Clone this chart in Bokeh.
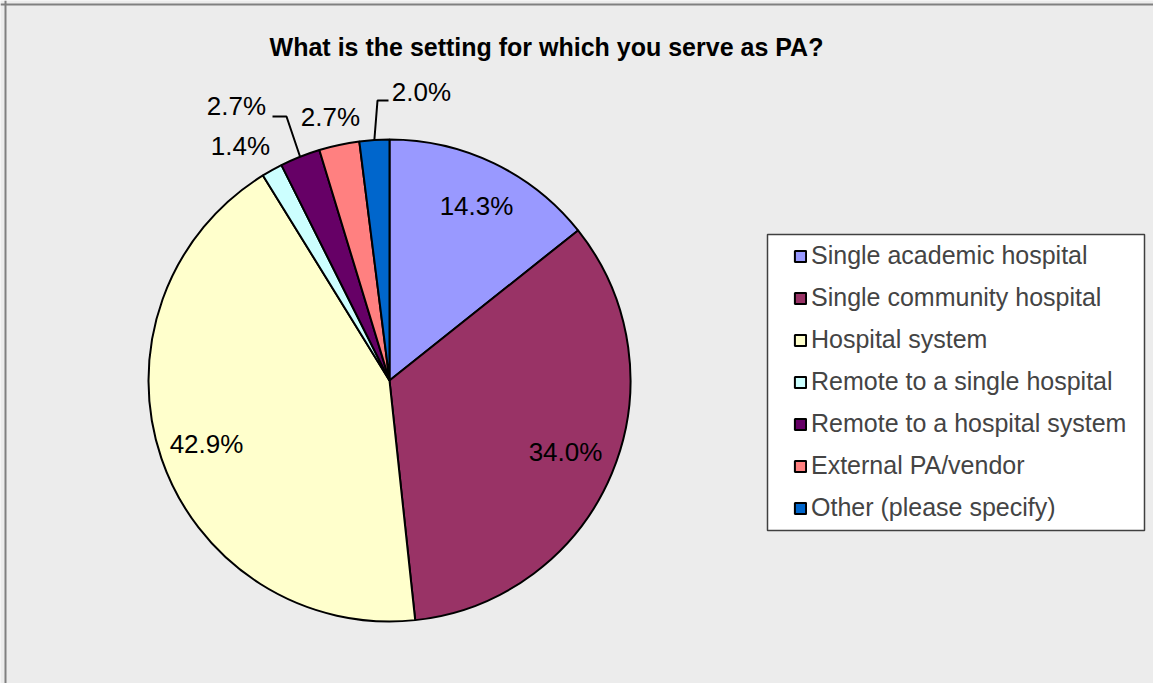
import math
from bokeh.plotting import figure
from bokeh.models import (Range1d, Legend, LegendItem, Label, BoxAnnotation, Span,
                          ColumnDataSource)
from bokeh.embed import file_html
from bokeh.resources import INLINE

# ---------------- data ----------------
categories = ["Single academic hospital", "Single community hospital", "Hospital system",
              "Remote to a single hospital", "Remote to a hospital system",
              "External PA/vendor", "Other (please specify)"]
percent = [14.3, 34.0, 42.9, 1.4, 2.7, 2.7, 2.0]
label_text = ["14.3%", "34.0%", "42.9%", "1.4%", "2.7%", "2.7%", "2.0%"]
title_text = "What is the setting for which you serve as PA?"

# ---------------- styles / layout ----------------
colors = ["#9999FF", "#993366", "#FFFFCC", "#CCFFFF", "#660066", "#FF8080", "#0066CC"]
W, H = 1153, 683          # figure size in px
IMG_H = 683

def Y(img_y):             # image y (down) -> data y (up)
    return IMG_H - img_y

cx, cy, R = 389, 380, 241  # pie centre / radius in image px
# data label positions (image px)
label_pos = [(476, 205), (565, 451), (206, 443), (240, 145), (236, 105), (330, 116), (421, 91)]
# leader lines: (slice index, elbow points in image px)
leaders = [(4, [(272, 116), (286, 116)]), (6, [(388, 100), (377, 100)])]

FONT = "Liberation Sans"

p = figure(width=W, height=H, output_backend="svg", toolbar_location=None,
           x_range=Range1d(0, W), y_range=Range1d(IMG_H - H, IMG_H),
           min_border=0, background_fill_color="#ECECEC", border_fill_color="#ECECEC")
p.axis.visible = False
p.grid.visible = False
p.outline_line_color = None

# chart-area border (left and top)
p.add_layout(Span(location=5, dimension="height", line_color="#808080", line_width=2))
p.add_layout(Span(location=Y(4), dimension="width", line_color="#808080", line_width=2))

# ---------------- pie ----------------
total = sum(percent)
starts, ends, mids = [], [], []
cum = 0.0
for v in percent:
    a0 = math.pi / 2 - 2 * math.pi * cum / total
    cum += v
    a1 = math.pi / 2 - 2 * math.pi * cum / total
    starts.append(a1)
    ends.append(a0)
    mids.append((a0 + a1) / 2)

src = ColumnDataSource(dict(cat=categories, start=starts, end=ends, color=colors,
                            x=[cx] * len(categories), y=[Y(cy)] * len(categories)))
r = p.wedge(x="x", y="y", radius=R, start_angle="start", end_angle="end",
            fill_color="color", line_color="black", line_width=2, source=src)

# data labels
for txt, (lx, ly) in zip(label_text, label_pos):
    p.add_layout(Label(x=lx, y=Y(ly), text=txt, text_font=FONT, text_font_size="26px",
                       text_align="center", text_baseline="middle", text_color="black"))

# leader lines
for idx, elbow in leaders:
    a = mids[idx]
    ex, ey = cx + R * math.cos(a), Y(cy) + R * math.sin(a)
    xs = [pt[0] for pt in elbow] + [ex]
    ys = [Y(pt[1]) for pt in elbow] + [ey]
    p.line(xs, ys, line_color="black", line_width=2)

# title
p.add_layout(Label(x=546, y=Y(46), text=title_text, text_font=FONT, text_font_size="25px",
                   text_font_style="bold", text_align="center", text_baseline="middle",
                   text_color="black"))

# legend box
p.add_layout(BoxAnnotation(left=767, right=1144, top=Y(234), bottom=Y(530),
                           fill_color="white", fill_alpha=1.0, line_color="#404040",
                           line_alpha=1.0, line_width=1.5, level="underlay"))

items = [LegendItem(label=c, renderers=[r], index=i) for i, c in enumerate(categories)]
legend = Legend(items=items, location=(793, 161), padding=0, margin=0, spacing=13,
                glyph_width=14, glyph_height=14, label_standoff=4,
                label_text_font=FONT, label_text_font_size="25px",
                background_fill_alpha=0, border_line_color=None)
p.add_layout(legend)

open("out.html", "w").write(file_html(p, INLINE))
